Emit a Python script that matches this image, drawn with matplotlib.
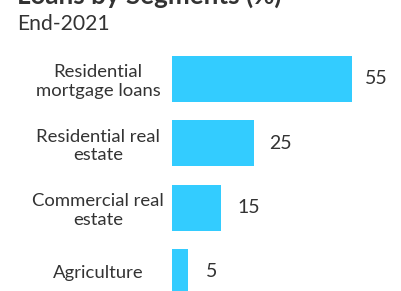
import matplotlib
matplotlib.use("Agg")
import matplotlib.pyplot as plt

categories = ["Residential\nmortgage loans", "Residential real\nestate", "Commercial real\nestate", "Agriculture"]
values = [55, 25, 15, 5]
title = "Loans by Segments (%)"
subtitle = "End-2021"

plt.rcParams['font.family'] = ['Lato', 'DejaVu Sans']
W, H = 401, 291
fig = plt.figure(figsize=(W / 100, H / 100), dpi=100)
ax = fig.add_axes([172 / W, 0, 229 / W, 1])
pos = list(range(len(categories)))
ax.barh(pos, values, height=0.715, color="#33ccff")
ax.set_xlim(0, 70)
ax.set_ylim(3.296, -1.228)
ax.set_yticks(pos)
ax.set_yticklabels(categories, fontsize=13.3, color="#333333", linespacing=1.2, ha="center")
ax.tick_params(axis="y", length=0, pad=0)
for lbl in ax.get_yticklabels():
    lbl.set_x(-(172 - 98) / 229)
ax.set_xticks([])
for s in ax.spines.values():
    s.set_visible(False)
for p, v in zip(pos, values):
    gap_px = 17.5 - 0.075 * v
    ax.annotate(str(v), (v, p), xytext=(gap_px * 0.72, 0), textcoords="offset points",
                va="center", ha="left", fontsize=14, color="#333333")
fig.text(17 / W, 1 - 4 / H, title, fontsize=18.7, fontweight="bold", color="#333333", va="baseline", ha="left")
fig.text(17 / W, 1 - 30 / H, subtitle, fontsize=15.2, color="#333333", va="baseline", ha="left")
fig.savefig("out.png", dpi=100)
